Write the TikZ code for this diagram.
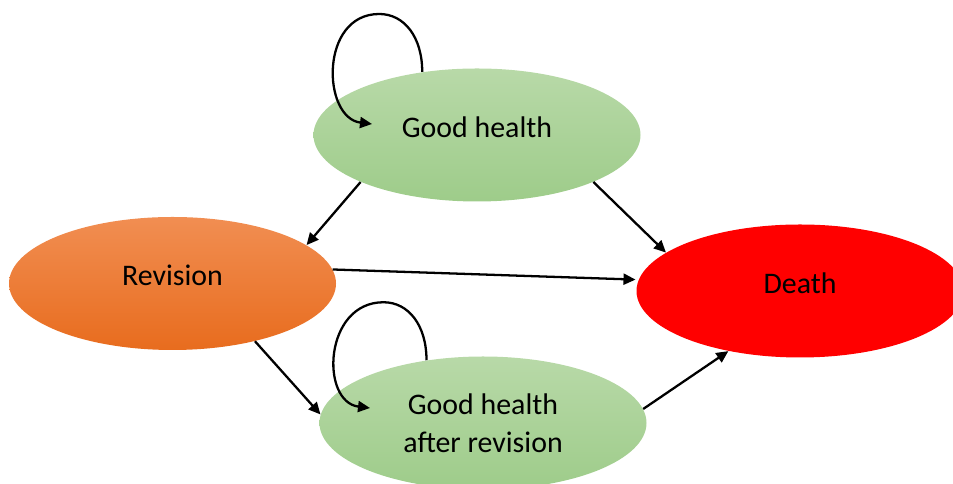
\documentclass[tikz,border=0pt]{standalone}
\usepackage{fontspec}
\setmainfont{Carlito}
\usetikzlibrary{arrows.meta,shapes.geometric}
\definecolor{ghTop}{RGB}{184,217,168}
\definecolor{ghBot}{RGB}{158,204,138}
\definecolor{revTop}{RGB}{241,142,82}
\definecolor{revBot}{RGB}{232,108,30}
\definecolor{deathRed}{RGB}{255,0,0}
\tikzset{
  state/.style={
    shape = ellipse,
    minimum width = 6.54cm,
    minimum height = 2.66cm,
    inner sep = 0pt,
    font = \fontsize{17pt}{21.6pt}\selectfont
  },
  good/.style={
    state,
    top color = ghTop,
    bottom color = ghBot
  },
  revision/.style={
    state,
    top color = revTop,
    bottom color = revBot
  },
  death/.style={
    state,
    fill = deathRed
  },
  lift/.style={
    text depth = 0.32cm
  },
  arr/.style={
    -{Triangle[length=2.4mm,width=2.2mm]},
    line width = 1.3pt
  }
}

\begin{document}
\begin{tikzpicture}
    \useasboundingbox (0,0) rectangle (19.06,9.68);

    \node[good, lift] (gh) at (9.54,6.98) {Good health};
    \node[revision, lift] (rev) at (3.45,4.01) {Revision};
    \node[good, align=center] (ghar) at (9.66,1.22) {Good health\\after revision};
    \node[death, lift] (death) at (16.0,3.86) {Death};

    \draw[arr] (gh.202) -- (rev.16);
    \draw[arr] (gh.338) -- (death.164);
    \draw[arr, shorten >=0.06cm] (rev.5) -- (death.176);
    \draw[arr] (rev.325) -- (ghar.177);
    \draw[arr] (ghar.5) -- (death.220);

    % self loops
    \coordinate (ghtip) at ([shift={(-2.1,0.22)}]gh.center);
    \coordinate (ghartip) at ([shift={(-2.26,0.3)}]ghar.center);
    \draw[arr] (gh.131) .. controls +(0,0.7) and +(0.5,0) .. ++(-0.86,1.16)
        .. controls +(-1.2,0) and +(-1,0.12) .. (ghtip);
    \draw[arr] (ghar.132) .. controls +(0,0.7) and +(0.5,0) .. ++(-0.86,1.16)
        .. controls +(-1.2,0) and +(-1,0.12) .. (ghartip);
\end{tikzpicture}
\end{document}
